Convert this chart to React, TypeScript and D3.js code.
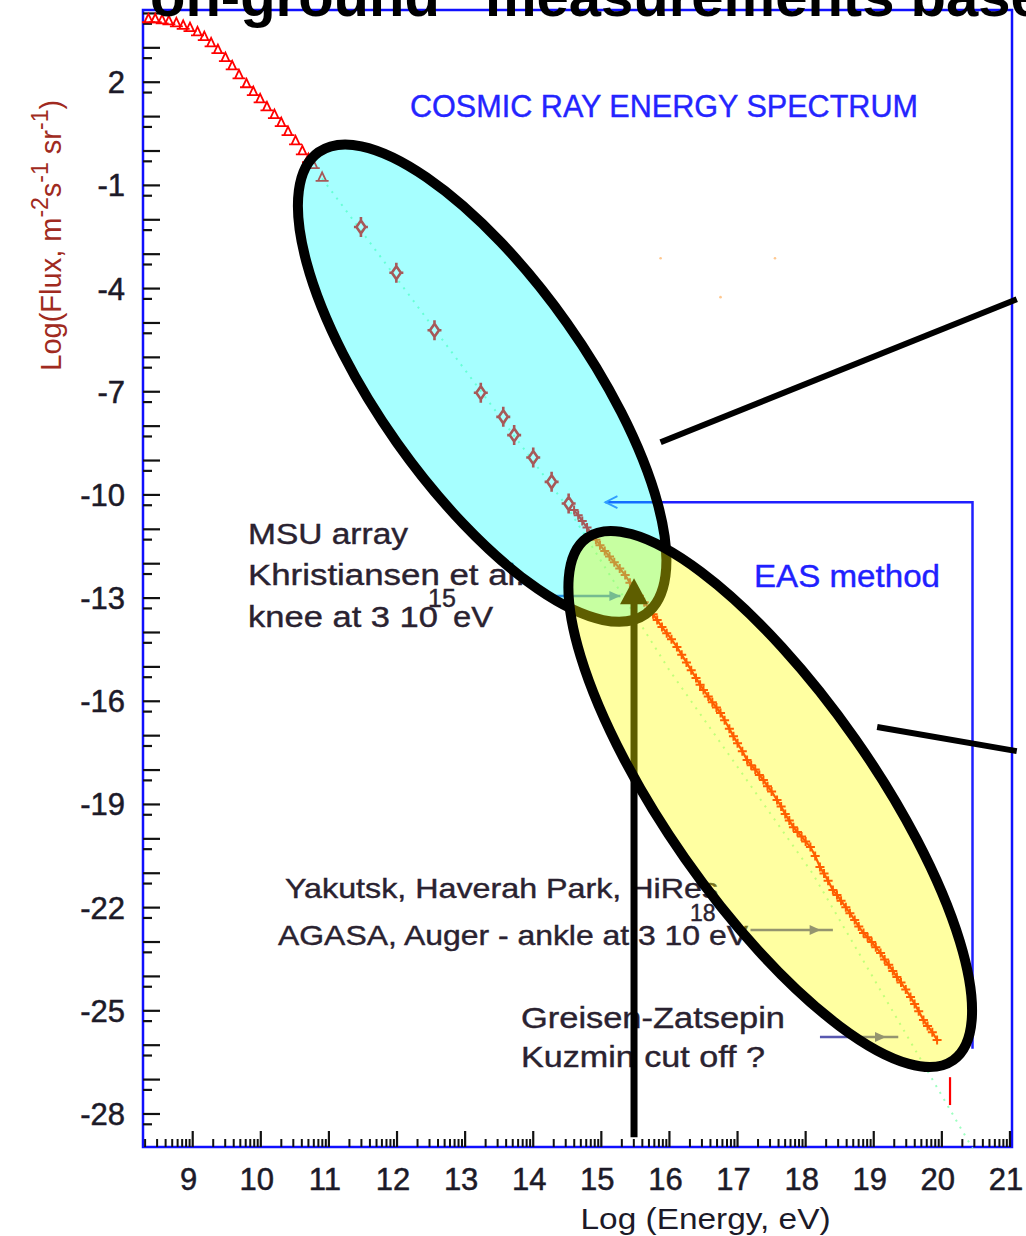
import React from 'react';
import * as d3 from 'd3';

const W = 1026;
const H = 1236;
const FONT = "'Liberation Sans', Arial, sans-serif";

// axis tick labels
const xTickValues = [9, 10, 11, 12, 13, 14, 15, 16, 17, 18, 19, 20, 21];
const yTickValues = [2, -1, -4, -7, -10, -13, -16, -19, -22, -25, -28];

// low-energy spectrum (log E [eV], log flux)
const lowEnergy: [number, number][] = [
  [8.35, 3.86], [8.45, 3.86], [8.55, 3.83], [8.65, 3.8], [8.76, 3.74], [8.86, 3.67],
  [8.96, 3.6], [9.07, 3.48], [9.17, 3.34], [9.27, 3.16], [9.37, 2.96], [9.48, 2.73],
  [9.58, 2.49], [9.68, 2.23], [9.79, 1.97], [9.89, 1.74], [9.99, 1.53], [10.09, 1.3],
  [10.2, 1.07], [10.3, 0.84], [10.4, 0.58], [10.51, 0.31], [10.61, 0.02], [10.7, -0.21],
  [10.77, -0.38], [10.9, -0.75],
];

// direct measurements (diamonds with error bars)
const directPoints: [number, number][] = [
  [11.47, -2.21], [11.99, -3.54], [12.55, -5.21], [13.23, -7.03], [13.56, -7.73],
  [13.72, -8.26], [14.0, -8.91], [14.27, -9.62], [14.52, -10.25],
];

// air-shower measurements (crosses)
const easPoints: [number, number][] = [
  [14.6, -10.44], [14.66, -10.59], [14.72, -10.76], [14.79, -10.95], [14.86, -11.14],
  [14.92, -11.3], [14.98, -11.46], [15.05, -11.63], [15.12, -11.79], [15.19, -11.96],
  [15.27, -12.14], [15.35, -12.33], [15.42, -12.55], [15.49, -12.74], [15.56, -12.93],
  [15.63, -13.12], [15.7, -13.31], [15.76, -13.47], [15.82, -13.64], [15.89, -13.84],
  [15.96, -14.02], [16.03, -14.2], [16.11, -14.42], [16.18, -14.65], [16.25, -14.87],
  [16.32, -15.1], [16.39, -15.32], [16.45, -15.52], [16.5, -15.67], [16.57, -15.86],
  [16.63, -16.03], [16.69, -16.18], [16.75, -16.34], [16.81, -16.55], [16.88, -16.8],
  [16.94, -17.02], [17.0, -17.22], [17.07, -17.45], [17.14, -17.71], [17.2, -17.86],
  [17.26, -17.98], [17.32, -18.14], [17.38, -18.29], [17.44, -18.47], [17.5, -18.62],
  [17.58, -18.87], [17.64, -19.06], [17.7, -19.28], [17.76, -19.47], [17.82, -19.66],
  [17.88, -19.8], [17.94, -19.93], [18.0, -20.08], [18.07, -20.24], [18.14, -20.5],
  [18.21, -20.82], [18.27, -21.01], [18.33, -21.22], [18.4, -21.49], [18.46, -21.63],
  [18.52, -21.8], [18.59, -21.99], [18.65, -22.16], [18.72, -22.36], [18.78, -22.55],
  [18.85, -22.74], [18.91, -22.86], [18.97, -23.0], [19.03, -23.15], [19.1, -23.32],
  [19.16, -23.51], [19.22, -23.66], [19.28, -23.84], [19.34, -24.02], [19.4, -24.18],
  [19.47, -24.38], [19.54, -24.6], [19.6, -24.8], [19.66, -25.01], [19.73, -25.27],
  [19.79, -25.44], [19.86, -25.62], [19.93, -25.85],
];

// faint power-law guide
const guideLine: [number, number][] = [
  [10.9, -0.8], [14.5, -10.35], [16.0, -15.1], [18.1, -21.0], [20.45, -29.0],
];

// highest-energy upper limit
const upperLimit = { energy: 20.12, top: -26.93, bottom: -27.74 };

// isolated faint points
const strayPoints: [number, number][] = [[15.87, -3.12], [16.75, -4.25], [17.55, -3.12]];

// annotation anchors (data units)
const kneeEnergy = 15.48;
const kneeArrow = { bottom: -28.68, tip: -12.42 };
const directEllipse = { cx: 13.25, cy: -6.75, rx: 283, ry: 104, angle: 54.7 };
const easEllipse = { cx: 17.48, cy: -18.84, rx: 319, ry: 104, angle: 55 };
const connectorA: [number, number][] = [[15.87, -8.47], [21.1, -4.31]];
const connectorB: [number, number][] = [[19.05, -16.75], [21.1, -17.45]];
const easBracket: [number, number][] = [[15.06, -10.21], [20.45, -10.21], [20.45, -26.1]];
const msuArrow = { from: 14.18, to: 15.28, level: -12.94 };
const agasaArrow = { from: 17.19, to: 18.4, head: 18.22, level: -22.65 };
const gzkArrow = { from: 18.21, to: 19.36, head: 19.18, level: -25.76 };

export default function App() {
  const x = d3.scaleLinear().domain([8.27, 21.03]).range([143, 1012]);
  const y = d3.scaleLinear().domain([4.1, -28.96]).range([10, 1147]);
  const line = d3.line<[number, number]>().x((d) => x(d[0])).y((d) => y(d[1]));

  const [x0, x1] = x.domain();
  const [y0, y1] = y.domain();
  const left = x(x0), right = x(x1), top = y(y0), bottom = y(y1);

  // log-style minor ticks within each decade of the energy axis
  const xMinor: number[] = [];
  for (let n = 8; n <= 20; n++) {
    for (let k = 2; k <= 9; k++) {
      const v = n + Math.log10(k);
      if (v > x0 && v < x1) xMinor.push(v);
    }
  }
  const xMajor = d3.range(9, 22);
  const yMajor = d3.range(4, -29, -1);
  const yMinor = yMajor.map((v) => v - 0.3).filter((v) => v > y1);

  const red = '#ff0000';
  const slate = '#5858b0';
  const ink = '#1c1a28';

  const arrowHead = (tx: number, ty: number, color: string) => (
    <path d={`M${tx},${ty} L${tx - 11},${ty - 5} L${tx - 11},${ty + 5} Z`} fill={color} />
  );

  return (
    <svg
      width={W}
      height={H}
      viewBox={`0 0 ${W} ${H}`}
      style={{ position: 'absolute', left: 0, top: 0, background: '#fff' }}
      fontFamily={FONT}
    >
      <rect x={0} y={0} width={W} height={H} fill="#fff" />

      {/* plot frame */}
      <rect x={left} y={top} width={right - left} height={bottom - top} fill="none" stroke="#1010ff" strokeWidth={2.5} />

      {/* y ticks */}
      {yMajor.filter((v) => v <= y0 && v >= y1).map((v) => (
        <line key={`ym${v}`} x1={left} x2={left + 17} y1={y(v)} y2={y(v)} stroke="#111" strokeWidth={2.2} />
      ))}
      {yMinor.map((v) => (
        <line key={`yn${v}`} x1={left} x2={left + 9} y1={y(v)} y2={y(v)} stroke="#111" strokeWidth={2.2} />
      ))}
      {yTickValues.map((v) => (
        <text key={`yl${v}`} x={125} y={y(v) + 11} textAnchor="end" fontSize={31} fill={ink} stroke={ink} strokeWidth={0.5}>
          {v}
        </text>
      ))}

      {/* x ticks */}
      {xMajor.map((v) => (
        <line key={`xm${v}`} x1={x(v)} x2={x(v)} y1={bottom} y2={bottom - 16} stroke="#111" strokeWidth={2.2} />
      ))}
      {xMinor.map((v) => (
        <line key={`xn${v}`} x1={x(v)} x2={x(v)} y1={bottom} y2={bottom - 8} stroke="#111" strokeWidth={2} />
      ))}
      {xTickValues.map((v) => (
        <text key={`xl${v}`} x={x(v) - 4} y={1190} textAnchor="middle" fontSize={31} fill={ink} stroke={ink} strokeWidth={0.5}>
          {v}
        </text>
      ))}

      {/* axis titles */}
      <text x={x(16.53)} y={1229} textAnchor="middle" fontSize={29} fill={ink} textLength={250} lengthAdjust="spacingAndGlyphs">
        Log (Energy, eV)
      </text>
      <text transform={`translate(61, ${y(-2.45)}) rotate(-90)`} textAnchor="middle" fontSize={29} fill="#a02a20">
        Log(Flux, m<tspan dy={-13} fontSize={23}>-2</tspan>
        <tspan dy={13}>s</tspan>
        <tspan dy={-13} fontSize={23}>-1</tspan>
        <tspan dy={13}> sr</tspan>
        <tspan dy={-13} fontSize={23}>-1</tspan>
        <tspan dy={13}>)</tspan>
      </text>

      {/* chart title */}
      <text x={410} y={117} fontSize={31} fill="#2424ff" stroke="#2424ff" strokeWidth={0.4} textLength={508} lengthAdjust="spacingAndGlyphs">
        COSMIC RAY ENERGY SPECTRUM
      </text>

      {/* faint power-law guide */}
      <path d={line(guideLine) ?? ''} fill="none" stroke="#9dffc0" strokeWidth={2} strokeDasharray="2 6" />

      {/* stray faint points */}
      {strayPoints.map((d, i) => (
        <circle key={`s${i}`} cx={x(d[0])} cy={y(d[1])} r={1.3} fill="#ffc890" />
      ))}

      {/* low-energy triangles */}
      {lowEnergy.map((d, i) => (
        <path
          key={`t${i}`}
          transform={`translate(${x(d[0])},${y(d[1])})`}
          d="M-4,4 L0,-4.5 L4,4 Z M-6.5,4 L6.5,4"
          fill="none"
          stroke={red}
          strokeWidth={1.8}
        />
      ))}

      {/* direct-measurement diamonds */}
      {directPoints.map((d, i) => (
        <path
          key={`d${i}`}
          transform={`translate(${x(d[0])},${y(d[1])})`}
          d="M0,-6.5 L4.5,0 L0,6.5 L-4.5,0 Z M0,-10 L0,-6.5 M0,6.5 L0,10 M-7,0 L-4.5,0 M4.5,0 L7,0"
          fill="none"
          stroke={red}
          strokeWidth={2.6}
        />
      ))}

      {/* air-shower crosses */}
      <path d={line(easPoints) ?? ''} fill="none" stroke={red} strokeWidth={2.2} />
      {easPoints.map((d, i) => (
        <path
          key={`c${i}`}
          transform={`translate(${x(d[0])},${y(d[1])})`}
          d="M-4.5,0 L4.5,0 M0,-4.5 L0,4.5"
          stroke={red}
          strokeWidth={2}
        />
      ))}

      {/* upper limit */}
      <line x1={x(upperLimit.energy)} x2={x(upperLimit.energy)} y1={y(upperLimit.top)} y2={y(upperLimit.bottom)} stroke={red} strokeWidth={2.2} />

      {/* EAS bracket */}
      <path d={line(easBracket) ?? ''} fill="none" stroke="#2020ff" strokeWidth={2.5} />
      <path
        d={`M${x(easBracket[0][0]) + 12},${y(easBracket[0][1]) - 6} L${x(easBracket[0][0])},${y(easBracket[0][1])} L${x(easBracket[0][0]) + 12},${y(easBracket[0][1]) + 6}`}
        fill="none"
        stroke="#4a6aff"
        strokeWidth={1.8}
      />

      {/* annotation arrows */}
      <line x1={x(msuArrow.from)} x2={x(msuArrow.to)} y1={y(msuArrow.level)} y2={y(msuArrow.level)} stroke="#3a5ad8" strokeWidth={2.5} />
      {arrowHead(x(msuArrow.to), y(msuArrow.level), '#3a5ad8')}
      <line x1={x(agasaArrow.from)} x2={x(agasaArrow.to)} y1={y(agasaArrow.level)} y2={y(agasaArrow.level)} stroke={slate} strokeWidth={2.5} />
      {arrowHead(x(agasaArrow.head), y(agasaArrow.level), slate)}
      <line x1={x(gzkArrow.from)} x2={x(gzkArrow.to)} y1={y(gzkArrow.level)} y2={y(gzkArrow.level)} stroke={slate} strokeWidth={2.5} />
      {arrowHead(x(gzkArrow.head), y(gzkArrow.level), slate)}

      {/* annotation texts */}
      <g fontSize={30} fill="#2a2230" stroke="#2a2230" strokeWidth={0.4}>
        <text x={248} y={544} textLength={160} lengthAdjust="spacingAndGlyphs">MSU array</text>
        <text x={248} y={585} textLength={277} lengthAdjust="spacingAndGlyphs">Khristiansen et al.</text>
        <text x={248} y={627} textLength={190} lengthAdjust="spacingAndGlyphs">knee at 3 10</text>
        <text x={428} y={607} fontSize={25}>15</text>
        <text x={453} y={627} textLength={40} lengthAdjust="spacingAndGlyphs">eV</text>
        <text x={285} y={898} fontSize={28} textLength={433} lengthAdjust="spacingAndGlyphs">Yakutsk, Haverah Park, HiRes</text>
        <text x={278} y={945} fontSize={28} textLength={470} lengthAdjust="spacingAndGlyphs">AGASA, Auger - ankle at 3 10 eV</text>
        <text x={690} y={921} fontSize={23}>18</text>
        <text x={521} y={1028} textLength={264} lengthAdjust="spacingAndGlyphs">Greisen-Zatsepin</text>
        <text x={521} y={1067} textLength={244} lengthAdjust="spacingAndGlyphs">Kuzmin cut off ?</text>
      </g>
      <text x={754} y={587} fontSize={31} fill="#2020ff" stroke="#2020ff" strokeWidth={0.4} textLength={186} lengthAdjust="spacingAndGlyphs">
        EAS method
      </text>

      {/* highlight: direct measurements */}
      <g transform={`translate(${x(directEllipse.cx)},${y(directEllipse.cy)}) rotate(${directEllipse.angle})`}>
        <ellipse rx={directEllipse.rx} ry={directEllipse.ry} fill="rgba(0,255,255,0.35)" stroke="#000" strokeWidth={10} />
      </g>

      {/* knee arrow */}
      <line x1={x(kneeEnergy)} x2={x(kneeEnergy)} y1={y(kneeArrow.bottom)} y2={y(kneeArrow.tip) + 22} stroke="#000" strokeWidth={7} />
      <path
        d={`M${x(kneeEnergy)},${y(kneeArrow.tip)} L${x(kneeEnergy) - 14},${y(kneeArrow.tip) + 26} L${x(kneeEnergy) + 14},${y(kneeArrow.tip) + 26} Z`}
        fill="#000"
      />

      {/* highlight: air-shower measurements */}
      <g transform={`translate(${x(easEllipse.cx)},${y(easEllipse.cy)}) rotate(${easEllipse.angle})`}>
        <ellipse rx={easEllipse.rx} ry={easEllipse.ry} fill="rgba(255,255,0,0.37)" stroke="#000" strokeWidth={10} />
      </g>

      {/* callout lines */}
      <path d={line(connectorA) ?? ''} stroke="#000" strokeWidth={6} fill="none" />
      <path d={line(connectorB) ?? ''} stroke="#000" strokeWidth={6} fill="none" />

      {/* slide heading, clipped by the top edge */}
      <text x={121} y={16} fontSize={58} fontWeight="bold" fill="#000">
        “on-ground” measurements based
      </text>
    </svg>
  );
}
